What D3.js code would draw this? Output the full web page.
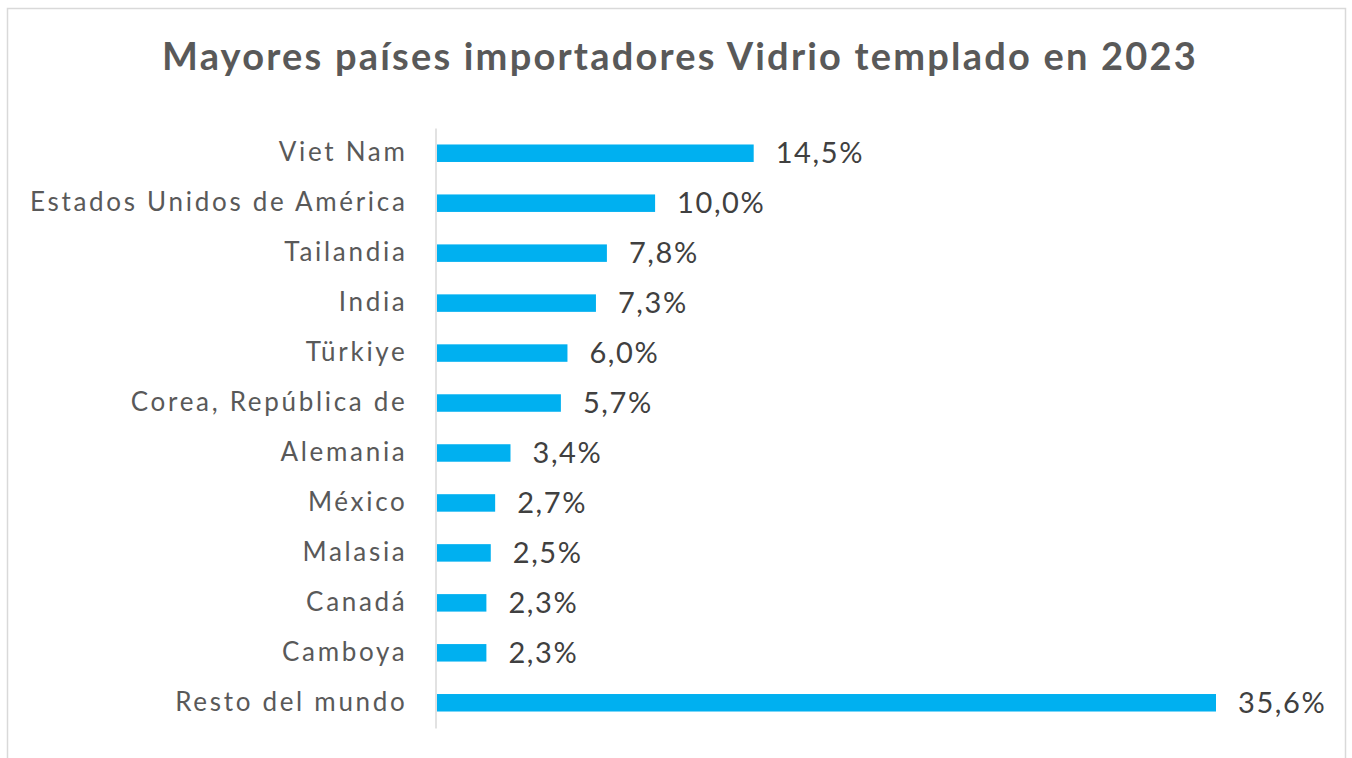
<!DOCTYPE html>
<html>
<head>
<meta charset="utf-8">
<script src="https://cdn.jsdelivr.net/npm/d3@7"></script>
<style>
  body { margin: 0; background: #fff; }
  svg text { font-family: Lato, "Open Sans", sans-serif; }
</style>
</head>
<body>
<div class="chart"></div>
<script>
const countries = [
  'Viet Nam', 'Estados Unidos de América', 'Tailandia', 'India', 'Türkiye',
  'Corea, República de', 'Alemania', 'México', 'Malasia', 'Canadá', 'Camboya', 'Resto del mundo'
]
const shares = [14.5, 10.0, 7.8, 7.3, 6.0, 5.7, 3.4, 2.7, 2.5, 2.3, 2.3, 35.6]
const title = 'Mayores países importadores Vidrio templado en 2023'

const width = 1352
const height = 758
const margin = { top: 128, left: 436, bottom: 30 }

const data = countries.map((c, i) => ({ name: c, value: shares[i] }))

const svg = d3.select('.chart')
  .append('svg')
  .attr('width', width)
  .attr('height', height)

svg.append('rect')
  .attr('x', 7.5)
  .attr('y', 8.5)
  .attr('width', 1338)
  .attr('height', 760)
  .attr('fill', '#fff')
  .attr('stroke', '#d9d9d9')
  .attr('stroke-width', 1.5)

svg.append('text')
  .attr('x', 680)
  .attr('y', 70)
  .attr('text-anchor', 'middle')
  .attr('font-size', 38)
  .attr('font-weight', 'bold')
  .attr('letter-spacing', 2.2)
  .attr('fill', '#595959')
  .text(title)

const xScale = d3.scaleLinear()
  .domain([0, 35.6])
  .range([margin.left, 1216])

const yScale = d3.scaleBand()
  .domain(countries)
  .range([margin.top, 728])
  .paddingInner(0.65)
  .paddingOuter(0.33)

svg.selectAll('.bar')
  .data(data)
  .enter()
  .append('rect')
  .attr('class', 'bar')
  .attr('x', xScale(0) + 1)
  .attr('y', d => yScale(d.name))
  .attr('width', d => xScale(d.value) - xScale(0) - 1)
  .attr('height', yScale.bandwidth())
  .attr('fill', '#00b0f0')

const yAxis = d3.axisLeft(yScale).tickSize(0).tickPadding(28)

const gy = svg.append('g')
  .attr('transform', 'translate(' + (xScale(0) - 0.5) + ',0)')
  .call(yAxis)

gy.select('.domain').attr('stroke', '#d9d9d9').attr('stroke-width', 1.5)
gy.selectAll('text')
  .attr('font-size', 26)
  .attr('dy', '0.3em')
  .attr('fill', '#595959')
  .attr('letter-spacing', 2.7)
  .style('font-family', 'Lato, sans-serif')

svg.selectAll('.value')
  .data(data)
  .enter()
  .append('text')
  .attr('class', 'value')
  .attr('x', d => xScale(d.value) + 22)
  .attr('y', d => yScale(d.name) + yScale.bandwidth() / 2)
  .attr('dy', '0.35em')
  .attr('font-size', 29)
  .attr('letter-spacing', 1.6)
  .attr('fill', '#404040')
  .text(d => d.value.toFixed(1).replace('.', ',') + '%')
</script>
</body>
</html>
